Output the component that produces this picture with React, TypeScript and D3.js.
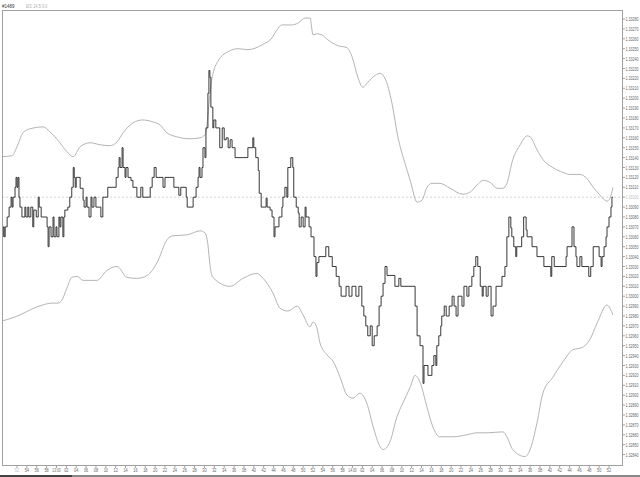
import React from 'react';
import * as d3 from 'd3';

// time = minutes after 12:00, value = price
const priceSeries: [number, number][] = [
  [49.0,1.33060],[49.2,1.33070],[49.4,1.33060],[49.6,1.33070],[50.0,1.33080],[50.4,1.33090],[50.8,1.33100],[51.0,1.33090],[51.2,1.33100],[51.6,1.33110],[51.8,1.33120],[52.0,1.33110],[52.2,1.33120],[52.4,1.33100],[52.6,1.33090],[53.0,1.33080],[53.6,1.33090],[53.8,1.33080],[54.2,1.33090],[54.4,1.33080],[54.8,1.33090],[55.2,1.33070],[55.4,1.33087],[55.9,1.33080],[56.3,1.33100],[56.5,1.33090],[56.9,1.33080],[58.1,1.33070],[58.3,1.33050],[58.5,1.33070],[58.9,1.33060],[59.3,1.33080],[59.5,1.33060],[59.9,1.33070],[60.1,1.33060],[60.5,1.33080],[60.7,1.33070],[60.9,1.33080],[61.3,1.33060],[61.5,1.33080],[61.7,1.33087],[62.3,1.33090],[62.7,1.33100],[63.1,1.33110],[63.4,1.33130],[63.6,1.33120],[63.8,1.33110],[64.0,1.33120],[64.8,1.33109],[65.4,1.33097],[65.6,1.33090],[66.0,1.33100],[66.2,1.33090],[66.6,1.33080],[67.0,1.33100],[67.2,1.33090],[67.6,1.33100],[68.0,1.33090],[69.0,1.33080],[69.4,1.33100],[70.4,1.33110],[72.1,1.33120],[72.5,1.33130],[72.7,1.33140],[72.9,1.33130],[73.3,1.33150],[73.5,1.33130],[73.9,1.33120],[74.1,1.33130],[74.5,1.33120],[75.1,1.33117],[75.5,1.33110],[76.3,1.33100],[77.1,1.33110],[77.5,1.33100],[79.0,1.33110],[79.4,1.33120],[79.8,1.33130],[80.2,1.33120],[81.6,1.33110],[82.0,1.33120],[83.8,1.33110],[84.8,1.33102],[85.2,1.33110],[86.3,1.33100],[86.5,1.33090],[87.7,1.33100],[88.3,1.33110],[88.7,1.33120],[88.9,1.33130],[89.1,1.33120],[89.5,1.33130],[89.7,1.33150],[90.1,1.33140],[90.3,1.33170],[90.7,1.33205],[90.9,1.33228],[91.1,1.33221],[91.3,1.33191],[91.7,1.33170],[91.9,1.33178],[92.3,1.33170],[93.1,1.33150],[93.6,1.33170],[94.0,1.33158],[94.4,1.33160],[94.8,1.33150],[95.2,1.33158],[95.6,1.33150],[96.2,1.33140],[98.8,1.33150],[99.8,1.33160],[100.0,1.33150],[100.4,1.33140],[100.9,1.33127],[101.1,1.33104],[101.5,1.33090],[102.5,1.33099],[102.7,1.33090],[103.3,1.33087],[103.7,1.33080],[104.1,1.33060],[104.3,1.33070],[105.1,1.33080],[105.7,1.33090],[105.9,1.33100],[106.3,1.33110],[106.7,1.33100],[106.9,1.33130],[107.5,1.33140],[107.9,1.33130],[108.1,1.33100],[108.6,1.33090],[109.0,1.33084],[109.2,1.33070],[109.6,1.33080],[110.0,1.33070],[110.4,1.33090],[110.6,1.33080],[111.2,1.33070],[111.6,1.33060],[112.2,1.33040],[112.6,1.33020],[112.8,1.33034],[113.2,1.33040],[114.6,1.33050],[115.2,1.33040],[115.9,1.33030],[116.7,1.33020],[117.3,1.33010],[117.7,1.33000],[118.7,1.33010],[119.3,1.33000],[119.9,1.33010],[120.7,1.33000],[121.3,1.33010],[121.9,1.32990],[122.3,1.32980],[122.7,1.32970],[123.1,1.32960],[123.6,1.32970],[124.0,1.32950],[124.4,1.32960],[125.0,1.32970],[125.4,1.32990],[125.8,1.33000],[126.2,1.33013],[126.6,1.33030],[127.0,1.33021],[128.6,1.33010],[129.4,1.33018],[129.8,1.33010],[132.7,1.32990],[133.1,1.32960],[133.7,1.32950],[134.3,1.32912],[134.5,1.32930],[135.3,1.32920],[136.1,1.32930],[136.5,1.32940],[136.9,1.32930],[137.1,1.32950],[137.5,1.32960],[137.9,1.32970],[138.1,1.32980],[138.6,1.32990],[139.0,1.32980],[139.6,1.32990],[140.2,1.33000],[140.6,1.32990],[141.0,1.32980],[141.4,1.33000],[142.2,1.32990],[142.6,1.33010],[143.2,1.33000],[143.6,1.33010],[144.2,1.33020],[144.6,1.33030],[145.0,1.33040],[145.4,1.33030],[145.9,1.33010],[146.3,1.33000],[146.5,1.33010],[147.1,1.33000],[147.5,1.33010],[148.1,1.32980],[148.5,1.32990],[149.1,1.33010],[150.3,1.33020],[150.9,1.33030],[151.3,1.33060],[151.7,1.33080],[152.1,1.33069],[152.3,1.33060],[152.7,1.33050],[153.1,1.33040],[153.3,1.33050],[154.3,1.33060],[154.7,1.33080],[155.2,1.33067],[155.4,1.33060],[156.4,1.33050],[157.4,1.33040],[158.8,1.33030],[160.2,1.33020],[160.4,1.33040],[160.9,1.33030],[163.3,1.33040],[163.5,1.33050],[164.5,1.33070],[164.9,1.33050],[165.3,1.33040],[165.5,1.33030],[166.1,1.33040],[166.5,1.33030],[167.9,1.33020],[168.3,1.33030],[168.8,1.33050],[170.0,1.33040],[170.4,1.33030],[170.6,1.33040],[171.0,1.33050],[171.4,1.33060],[171.6,1.33070],[172.0,1.33080],[172.4,1.33090],[172.6,1.33100],[172.8,1.33100]
];

const upperBand: [number, number][] = [
  [49.0,1.33141],[51.0,1.33142],[52.0,1.33151],[53.2,1.33165],[54.6,1.33169],[57.3,1.33171],[58.7,1.33166],[60.7,1.33155],[62.1,1.33146],[63.4,1.33141],[64.8,1.33151],[66.8,1.33155],[68.8,1.33153],[70.8,1.33152],[72.3,1.33156],[73.5,1.33165],[75.5,1.33175],[77.5,1.33178],[79.6,1.33176],[81.0,1.33173],[82.4,1.33165],[84.4,1.33161],[87.1,1.33159],[89.1,1.33160],[90.1,1.33163],[90.5,1.33173],[90.9,1.33193],[91.3,1.33213],[91.9,1.33228],[92.7,1.33237],[94.8,1.33247],[96.8,1.33250],[98.8,1.33249],[101.7,1.33254],[103.7,1.33261],[104.7,1.33269],[105.7,1.33274],[107.7,1.33274],[109.0,1.33276],[110.4,1.33281],[111.4,1.33281],[112.0,1.33264],[112.8,1.33265],[113.8,1.33264],[115.0,1.33259],[117.1,1.33253],[118.9,1.33251],[119.9,1.33242],[121.1,1.33221],[122.1,1.33211],[123.1,1.33216],[124.6,1.33223],[125.6,1.33225],[126.6,1.33220],[128.0,1.33195],[129.2,1.33161],[130.6,1.33135],[131.7,1.33117],[133.1,1.33095],[134.1,1.33097],[135.1,1.33110],[136.1,1.33114],[137.7,1.33114],[139.8,1.33109],[142.4,1.33103],[143.8,1.33105],[145.2,1.33112],[146.5,1.33117],[147.9,1.33115],[149.3,1.33109],[150.5,1.33109],[151.3,1.33114],[152.5,1.33138],[154.0,1.33153],[155.4,1.33162],[156.0,1.33161],[157.4,1.33148],[158.6,1.33138],[160.6,1.33130],[162.7,1.33125],[164.1,1.33123],[166.1,1.33123],[167.5,1.33119],[168.8,1.33110],[170.2,1.33102],[171.6,1.33096],[172.2,1.33099],[172.8,1.33110]
];

const lowerBand: [number, number][] = [
  [49.0,1.32975],[51.0,1.32978],[53.0,1.32982],[55.0,1.32987],[57.1,1.32991],[59.1,1.32993],[60.3,1.32993],[61.1,1.32996],[62.1,1.33008],[63.1,1.33019],[64.2,1.33020],[65.4,1.33016],[68.2,1.33016],[70.2,1.33026],[72.3,1.33030],[74.3,1.33019],[76.3,1.33018],[78.4,1.33021],[80.4,1.33034],[82.4,1.33057],[83.6,1.33061],[86.5,1.33062],[89.1,1.33066],[90.1,1.33064],[90.7,1.33052],[91.1,1.33032],[91.7,1.33019],[95.2,1.33010],[97.8,1.33018],[100.6,1.33023],[101.9,1.33018],[103.9,1.33003],[105.3,1.32988],[106.9,1.32985],[108.8,1.32990],[110.0,1.32981],[111.4,1.32969],[112.0,1.32974],[112.8,1.32968],[113.4,1.32953],[114.8,1.32941],[116.1,1.32934],[117.5,1.32918],[118.9,1.32900],[120.1,1.32897],[121.5,1.32902],[122.9,1.32892],[124.2,1.32868],[125.6,1.32848],[126.2,1.32845],[127.6,1.32853],[129.0,1.32878],[130.2,1.32892],[131.7,1.32908],[132.7,1.32920],[133.7,1.32913],[135.1,1.32888],[136.3,1.32868],[137.7,1.32858],[140.4,1.32858],[143.2,1.32860],[145.2,1.32862],[147.3,1.32862],[150.5,1.32863],[151.3,1.32858],[152.5,1.32845],[155.0,1.32838],[156.0,1.32845],[157.4,1.32872],[158.6,1.32902],[160.6,1.32918],[162.7,1.32934],[164.7,1.32946],[166.5,1.32948],[168.1,1.32956],[169.6,1.32973],[171.6,1.32991],[172.8,1.32981]
];

const currentPrice = 1.33100;
const yTickMin = 1.32840;
const yTickMax = 1.33280;
const yTickStep = 0.0001;
const xTickMinutes = d3.range(52, 173, 2);
const titleText = '#1489';
const subtitleText = 'EIS: 24.5/ 0.0';

export default function App() {
  const W = 640, H = 477;
  const L = 2, R = 623, T = 11, B = 466;
  const x = d3.scaleLinear().domain([52, 172]).range([17, 609]);
  const y = d3.scaleLinear().domain([yTickMax, yTickMin]).range([19, 454.6]);

  const yTicks = d3.range(0, Math.round((yTickMax - yTickMin) / yTickStep) + 1).map(i => +(yTickMin + i * yTickStep).toFixed(5));

  const stepLine = d3.line<[number, number]>().x(d => x(d[0])).y(d => y(d[1])).curve(d3.curveStepAfter);
  const smoothLine = d3.line<[number, number]>().x(d => x(d[0])).y(d => y(d[1])).curve(d3.curveMonotoneX);

  const fmtX = (m: number) => {
    const h = 12 + Math.floor(m / 60);
    const mm = m % 60;
    return mm === 0 ? `${h}:00` : String(mm).padStart(2, '0');
  };

  const font = 'Liberation Sans, Arial, sans-serif';

  return (
    <svg width={W} height={H} style={{ position: 'absolute', left: 0, top: 0, background: '#fff' }}>
      <defs>
        <clipPath id="plot">
          <rect x={L} y={T} width={R - L} height={B - T} />
        </clipPath>
      </defs>
      <rect x={0} y={0} width={W} height={H} fill="#fff" />
      <text transform="translate(2,8) scale(0.75,1)" fontSize={6} fontFamily={font} fill="#333">{titleText}</text>
      <text transform="translate(26,8) scale(0.7,1)" fontSize={5} fontFamily={font} fill="#aaa">{subtitleText}</text>

      <g clipPath="url(#plot)">
        <line x1={L} x2={R} y1={y(currentPrice)} y2={y(currentPrice)} stroke="#c8c8c8" strokeWidth={0.8} strokeDasharray="2,2" />
        <path d={smoothLine(upperBand) || ''} fill="none" stroke="#b4b4b4" strokeWidth={1} />
        <path d={smoothLine(lowerBand) || ''} fill="none" stroke="#b4b4b4" strokeWidth={1} />
        <path d={stepLine(priceSeries) || ''} fill="none" stroke="#222" strokeWidth={0.9} />
      </g>

      <rect x={L + 0.5} y={T - 0.5} width={R - L - 1} height={B - T} fill="none" stroke="#a0a0a0" strokeWidth={1} />

      {yTicks.map(v => (
        <g key={v}>
          <line x1={R} x2={R + 2} y1={y(v)} y2={y(v)} stroke="#a0a0a0" strokeWidth={1} />
          <text transform={`translate(625.5,${y(v) + 2}) scale(0.6,1)`} fontSize={6} fontFamily={font}
            fill={Math.abs(v - currentPrice) < 1e-6 ? '#c0c0c0' : '#666'}>{v.toFixed(5)}</text>
        </g>
      ))}

      {xTickMinutes.map((m, i) => {
        const lbl = fmtX(m);
        const sx = lbl.length > 2 ? 0.6 : 0.7;
        return (
          <g key={m}>
            <line x1={x(m)} x2={x(m)} y1={B} y2={B + 2} stroke="#a0a0a0" strokeWidth={1} />
            <text transform={`translate(${x(m)},472) scale(${sx},1)`} textAnchor="middle" fontSize={5.5} fontFamily={font}
              fill={i === 0 ? '#c0c0c0' : '#666'}>{lbl}</text>
          </g>
        );
      })}

      <rect x={0} y={475} width={W} height={2} fill="#888" />
      <rect x={0} y={475} width={72} height={2} fill="#444" />
    </svg>
  );
}
